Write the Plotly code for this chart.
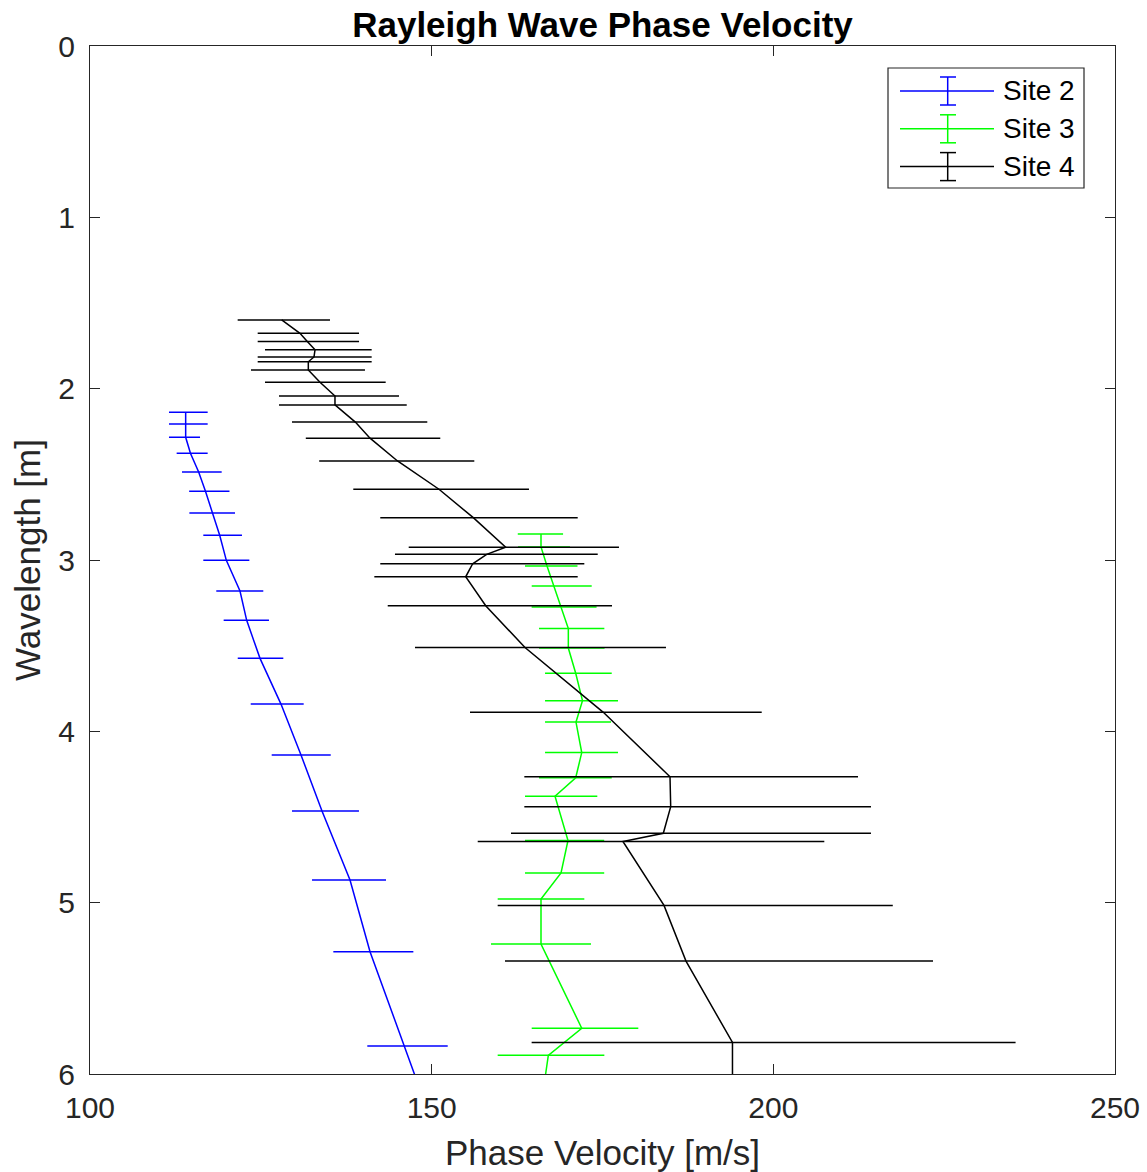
import plotly.graph_objects as go

# ---------------- data ----------------
site2_wavelength = [2.138, 2.206, 2.284, 2.377, 2.486, 2.599, 2.726, 2.856, 3.002, 3.181,
                    3.352, 3.574, 3.841, 4.138, 4.465, 4.868, 5.286, 5.837, 6.30]
site2_velocity = [114.0, 114.0, 114.0, 114.7, 115.9, 116.9, 117.96, 118.98, 119.95, 121.95,
                  122.93, 124.88, 127.95, 130.88, 133.95, 138.05, 140.98, 145.95, 150.2]
site2_err_minus = [2.44, 2.44, 2.44, 2.02, 2.44, 2.39, 3.42, 2.40, 3.37, 3.47,
                   3.37, 3.26, 4.43, 4.29, 4.39, 5.56, 5.37, 5.37, 0]
site2_err_plus = [3.22, 3.22, 2.10, 2.52, 3.37, 3.51, 3.26, 3.26, 3.37, 3.41,
                  3.26, 3.41, 3.32, 4.35, 5.41, 5.27, 6.34, 6.40, 0]

site3_wavelength = [2.848, 2.924, 3.035, 3.152, 3.274, 3.400, 3.514, 3.661, 3.821, 3.946,
                    4.124, 4.271, 4.379, 4.637, 4.827, 4.979, 5.241, 5.733, 5.891, 6.30]
site3_velocity = [166.0, 166.0, 166.88, 167.87, 168.93, 170.0, 170.0, 171.08, 172.07, 171.12,
                  171.96, 171.08, 168.05, 169.95, 168.93, 166.0, 166.0, 171.96, 167.07, 165.6]
site3_err_minus = [3.40, 3.36, 3.22, 3.23, 4.30, 4.29, 4.29, 4.49, 5.48, 4.53,
                   5.37, 5.37, 4.39, 6.29, 5.27, 6.34, 7.32, 7.32, 7.41, 0]
site3_err_plus = [3.23, 4.24, 4.46, 5.55, 5.20, 5.27, 5.30, 5.27, 5.20, 5.13,
                  5.31, 5.27, 6.19, 5.30, 6.32, 6.34, 7.32, 8.28, 8.20, 0]

site4_wavelength = [1.599, 1.677, 1.724, 1.773, 1.815, 1.843, 1.891, 1.963, 2.043, 2.095,
                    2.195, 2.289, 2.422, 2.587, 2.753, 2.926, 2.967, 3.022, 3.098, 3.267,
                    3.511, 3.889, 4.265, 4.440, 4.595, 4.643, 5.016, 5.341, 5.816, 6.30]
site4_velocity = [128.05, 130.73, 131.80, 132.93, 132.78, 131.95, 131.95, 133.66, 135.85, 135.85,
                  138.83, 140.98, 145.00, 151.07, 156.09, 160.83, 158.05, 156.00, 154.98, 157.91,
                  163.66, 175.12, 184.88, 184.98, 183.90, 177.99, 184.0, 187.22, 194.02, 194.02]
site4_err_minus = [6.44, 6.19, 7.26, 7.32, 8.24, 7.41, 8.39, 8.05, 8.19, 8.19,
                   9.27, 9.40, 11.46, 12.54, 13.61, 14.19, 13.42, 13.52, 13.37, 14.34,
                   16.10, 19.51, 21.32, 21.42, 22.29, 21.25, 24.34, 26.49, 29.39, 0]
site4_err_plus = [7.07, 8.64, 7.57, 8.29, 8.44, 9.27, 8.29, 9.61, 9.37, 10.50,
                  10.53, 10.28, 11.24, 13.17, 15.28, 16.58, 16.25, 16.34, 16.39, 18.48,
                  20.63, 23.18, 27.51, 29.31, 30.39, 29.47, 33.48, 36.15, 41.43, 0]

series_names = ["Site 2", "Site 3", "Site 4"]
x_ticks = [100, 150, 200, 250]
y_ticks = [0, 1, 2, 3, 4, 5, 6]

colors = ["#0000ff", "#00ff00", "#000000"]
FONT = "Liberation Sans, Arial, Helvetica, sans-serif"
AX = "#262626"

fig = go.Figure()
series = [
    (site2_velocity, site2_wavelength, site2_err_minus, site2_err_plus),
    (site3_velocity, site3_wavelength, site3_err_minus, site3_err_plus),
    (site4_velocity, site4_wavelength, site4_err_minus, site4_err_plus),
]
for (v, w, em, ep), name, c in zip(series, series_names, colors):
    fig.add_trace(go.Scatter(
        x=v, y=w, mode="lines", name=name,
        line=dict(color=c, width=1.5),
        error_x=dict(type="data", symmetric=False, array=ep, arrayminus=em,
                     color=c, thickness=1.5, width=0),
        showlegend=False,
    ))

FW, FH = 1147, 1172
L, R, T, B = 90, 1115, 46, 1074


def px(x):
    return (x - L) / (R - L)


def py(y):
    return (B - y) / (B - T)


# ---- manual MATLAB-style legend ----
shapes = [dict(type="rect", xref="paper", yref="paper",
               x0=px(888), x1=px(1084), y0=py(188), y1=py(68),
               line=dict(color=AX, width=1.2), fillcolor="white", layer="above")]
annotations = []
for i, (name, c) in enumerate(zip(series_names, colors)):
    yc = 91 + i * 37.8
    shapes.append(dict(type="line", xref="paper", yref="paper",
                       x0=px(900), x1=px(994), y0=py(yc), y1=py(yc),
                       line=dict(color=c, width=1.5), layer="above"))
    shapes.append(dict(type="line", xref="paper", yref="paper",
                       x0=px(947.7), x1=px(947.7), y0=py(yc - 14), y1=py(yc + 14),
                       line=dict(color=c, width=1.5), layer="above"))
    for dy in (-14, 14):
        shapes.append(dict(type="line", xref="paper", yref="paper",
                           x0=px(940), x1=px(956), y0=py(yc + dy), y1=py(yc + dy),
                           line=dict(color=c, width=1.5), layer="above"))
    annotations.append(dict(xref="paper", yref="paper", x=px(1001), y=py(yc),
                            text=name, showarrow=False, xanchor="left", yanchor="middle",
                            font=dict(family=FONT, size=28, color="#000000")))

fig.update_layout(
    width=FW, height=FH,
    margin=dict(l=L, r=FW - R, t=T, b=FH - B, autoexpand=False),
    paper_bgcolor="white", plot_bgcolor="white",
    title=dict(text="<b>Rayleigh Wave Phase Velocity</b>", x=(L + R) / 2 / FW, xanchor="center",
               y=1 - 25 / FH, yanchor="middle", yref="container",
               font=dict(family=FONT, size=35, color="#000000")),
    xaxis=dict(range=[100, 250], tickvals=x_ticks, ticktext=[str(t) for t in x_ticks],
               ticks="inside", ticklen=10, tickwidth=1.2, tickcolor=AX,
               showline=True, linecolor=AX, linewidth=1.2, mirror="allticks",
               showgrid=False, zeroline=False, ticklabelstandoff=7,
               ticklabeloverflow="allow",
               tickfont=dict(family=FONT, size=30, color=AX),
               title=dict(text="Phase Velocity [m/s]", standoff=19,
                          font=dict(family=FONT, size=35, color=AX))),
    yaxis=dict(range=[6, 0], tickvals=y_ticks, ticktext=[str(t) for t in y_ticks],
               ticks="inside", ticklen=10, tickwidth=1.2, tickcolor=AX,
               showline=True, linecolor=AX, linewidth=1.2, mirror="allticks",
               showgrid=False, zeroline=False, ticklabelstandoff=8,
               tickfont=dict(family=FONT, size=30, color=AX),
               title=dict(text="Wavelength [m]", standoff=6,
                          font=dict(family=FONT, size=35, color=AX))),
    shapes=shapes, annotations=annotations,
)

# remove the default 8px page margin so the figure fills the window exactly
fig.write_html("out.html", config={"displayModeBar": False},
               post_script="document.body.style.margin='0';")
